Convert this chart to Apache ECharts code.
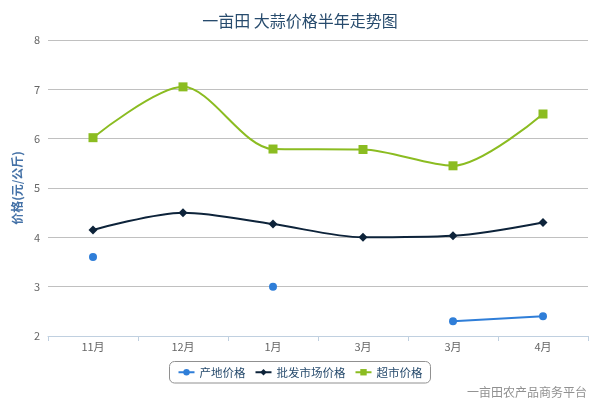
<!DOCTYPE html>
<html><head><meta charset="utf-8">
<script src="https://cdn.jsdelivr.net/npm/echarts@6/dist/echarts.min.js"></script>
<style>html,body{margin:0;padding:0;background:#fff}#c{width:600px;height:400px}</style>
</head><body><div id="c"></div>
<script>
var categories = ['11月', '12月', '1月', '3月', '3月', '4月'];
var originPrice = [3.6, null, 3.0, null, 2.3, 2.4];
var wholesalePrice = [4.15, 4.5, 4.27, 4.0, 4.03, 4.3];
var marketPrice = [6.02, 7.05, 5.79, 5.78, 5.45, 6.5];
var yTicks = [2, 3, 4, 5, 6, 7, 8];
var seriesNames = ['产地价格', '批发市场价格', '超市价格'];

var font = '"Noto Sans CJK SC", "DejaVu Sans", sans-serif';
var chart = echarts.init(document.getElementById('c'), null, {renderer: 'canvas'});
chart.setOption({
  animation: false,
  textStyle: {fontFamily: font},
  title: [{
    text: '一亩田 大蒜价格半年走势图', left: 'center', top: 8,
    textStyle: {color: '#274b6d', fontSize: 16, fontWeight: 'normal', fontFamily: font}
  }, {
    text: '一亩田农产品商务平台', right: 8, top: 381,
    textStyle: {color: '#909090', fontSize: 12, fontWeight: 'normal', fontFamily: font}
  }],
  legend: {
    bottom: 17, left: 'center',
    data: seriesNames,
    borderColor: '#909090', borderWidth: 1, borderRadius: 5,
    padding: [5, 8, 5, 8],
    itemWidth: 16, itemHeight: 8, itemGap: 9,
    textStyle: {color: '#274b6d', fontSize: 11.5, fontFamily: font}
  },
  grid: {left: 48, right: 12, top: 40, bottom: 64, containLabel: false, outerBoundsMode: 'none'},
  xAxis: {
    type: 'category', data: categories, boundaryGap: true,
    axisLine: {lineStyle: {color: '#c0d0e0'}},
    axisTick: {show: true, length: 5, alignWithLabel: false, lineStyle: {color: '#c0d0e0'}},
    axisLabel: {color: '#666', fontSize: 11, margin: 5, fontFamily: font}
  },
  yAxis: {
    type: 'value', min: yTicks[0], max: yTicks[yTicks.length - 1], interval: 1,
    name: '价格(元/公斤)', nameLocation: 'middle', nameGap: 22, nameRotate: 90,
    nameTextStyle: {color: '#4572a7', fontSize: 12, fontWeight: 'bold', fontFamily: font},
    axisLine: {show: false}, axisTick: {show: false},
    axisLabel: {color: '#666', fontSize: 11, margin: 8, fontFamily: font},
    splitLine: {lineStyle: {color: '#c0c0c0'}}
  },
  series: [{
    name: seriesNames[0], type: 'line', data: originPrice, smooth: 0.3,
    symbol: 'circle', symbolSize: 8, showAllSymbol: true,
    connectNulls: false,
    itemStyle: {color: '#2f7ed8'}, lineStyle: {width: 2, color: '#2f7ed8'}
  }, {
    name: seriesNames[1], type: 'line', data: wholesalePrice, smooth: 0.3,
    symbol: 'diamond', symbolSize: 9,
    itemStyle: {color: '#0d233a'}, lineStyle: {width: 2, color: '#0d233a'}
  }, {
    name: seriesNames[2], type: 'line', data: marketPrice, smooth: 0.3,
    symbol: 'rect', symbolSize: 9,
    itemStyle: {color: '#8bbc21'}, lineStyle: {width: 2, color: '#8bbc21'}
  }]
});
</script></body></html>
